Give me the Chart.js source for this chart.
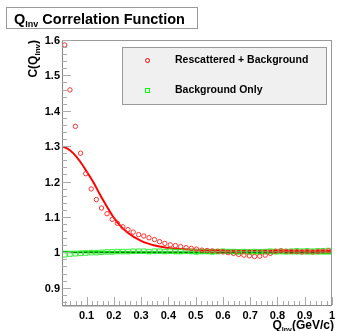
<!DOCTYPE html>
<html>
<head>
<meta charset="utf-8">
<script src="https://cdn.jsdelivr.net/npm/chart.js@4"></script>
<style>
  html, body { margin: 0; padding: 0; background: #fff; }
  #corr { display: block; }
</style>
</head>
<body>
<canvas id="corr" width="337" height="331"></canvas>
<script>
// Q_inv bin centres (GeV/c)
const qBins = [0.020, 0.039, 0.059, 0.078, 0.097, 0.117, 0.136, 0.155, 0.175, 0.194,
  0.213, 0.233, 0.252, 0.271, 0.291, 0.310, 0.329, 0.349, 0.368, 0.387,
  0.407, 0.426, 0.445, 0.465, 0.484, 0.503, 0.523, 0.542, 0.561, 0.581,
  0.600, 0.619, 0.639, 0.658, 0.677, 0.697, 0.716, 0.735, 0.755, 0.774,
  0.793, 0.813, 0.832, 0.851, 0.871, 0.890, 0.909, 0.929, 0.948, 0.967, 0.987];

// C(Q_inv) for rescattered + background
const rescattered = [1.586, 1.459, 1.356, 1.280, 1.222, 1.179, 1.149, 1.125, 1.109, 1.093,
  1.082, 1.072, 1.064, 1.057, 1.050, 1.046, 1.041, 1.036, 1.030, 1.025,
  1.021, 1.019, 1.016, 1.013, 1.011, 1.009, 1.006, 1.005, 1.004, 1.003,
  1.001, 0.999, 0.997, 0.994, 0.992, 0.990, 0.988, 0.989, 0.992, 0.997,
  1.003, 1.004, 1.003, 1.002, 1.002, 1.001, 1.002, 1.001, 1.002, 1.003, 1.004];

// C(Q_inv) for background only
const background = [0.993, 0.995, 0.996, 0.997, 0.998, 0.999, 0.999, 1.000, 1.001, 1.001,
  1.002, 1.002, 1.002, 1.003, 1.003, 1.003, 1.002, 1.003, 1.003, 1.002,
  1.003, 1.002, 1.002, 1.003, 1.002, 1.001, 1.002, 1.002, 1.001, 1.002,
  1.003, 1.002, 1.002, 1.001, 1.002, 1.001, 1.002, 1.001, 1.002, 1.003,
  1.002, 1.003, 1.002, 1.003, 1.004, 1.003, 1.004, 1.003, 1.004, 1.004, 1.005];

// fit curves
const fitQ = [0.01, 0.03, 0.05, 0.075, 0.10, 0.125, 0.15, 0.175, 0.20, 0.225, 0.25,
  0.30, 0.35, 0.40, 0.45, 0.50, 0.60, 0.70, 0.80, 0.90, 1.00];
const rescatteredFit = [1.299, 1.293, 1.281, 1.258, 1.229, 1.198, 1.162, 1.129, 1.098, 1.074, 1.056,
  1.032, 1.019, 1.012, 1.009, 1.007, 1.006, 1.005, 1.005, 1.004, 1.004];
const bgFitQ = [0.01, 1.00];
const backgroundFit = [1.001, 0.997];
const unityLine = [1.0, 1.0];

// axis ticks
const xMajor = [0.1, 0.2, 0.3, 0.4, 0.5, 0.6, 0.7, 0.8, 0.9, 1.0];
const xLabels = ['0.1', '0.2', '0.3', '0.4', '0.5', '0.6', '0.7', '0.8', '0.9', '1'];
const yMajor = [0.9, 1.0, 1.1, 1.2, 1.3, 1.4, 1.5, 1.6];
const yLabels = ['0.9', '1', '1.1', '1.2', '1.3', '1.4', '1.5', '1.6'];

const xMin = 0.01, xMax = 1.0;
const yMin = 0.851, yMax = 1.6;

const pts = (xs, ys) => xs.map((x, i) => ({ x: x, y: ys[i] }));

const FONT = 'Liberation Sans, Arial, Helvetica, sans-serif';

// text with a subscript piece: [main, sub, rest]
function subText(ctx, x, y, parts, size, subSize, align) {
  ctx.font = 'bold ' + size + 'px ' + FONT;
  const w1 = ctx.measureText(parts[0]).width;
  const w3 = ctx.measureText(parts[2]).width;
  ctx.font = 'bold ' + subSize + 'px ' + FONT;
  const w2 = ctx.measureText(parts[1]).width;
  let x0 = align === 'right' ? x - (w1 + w2 + w3) : x;
  ctx.textAlign = 'left';
  ctx.textBaseline = 'alphabetic';
  ctx.font = 'bold ' + size + 'px ' + FONT;
  ctx.fillText(parts[0], x0, y);
  ctx.font = 'bold ' + subSize + 'px ' + FONT;
  ctx.fillText(parts[1], x0 + w1, y + size * 0.25);
  ctx.font = 'bold ' + size + 'px ' + FONT;
  ctx.fillText(parts[2], x0 + w1 + w2, y);
}

const rootFrame = {
  id: 'rootFrame',
  beforeDraw(chart) {
    const ctx = chart.ctx;
    ctx.save();
    ctx.fillStyle = '#fff';
    ctx.fillRect(0, 0, chart.width, chart.height);
    ctx.restore();
  },
  afterDraw(chart) {
    const ctx = chart.ctx;
    const a = chart.chartArea;
    const xs = chart.scales.x, ys = chart.scales.y;
    ctx.save();

    // frame
    ctx.strokeStyle = '#999';
    ctx.lineWidth = 1;
    ctx.strokeRect(a.left + 0.5, a.top + 0.5, a.right - a.left - 1, a.bottom - a.top);
    ctx.strokeStyle = '#888';
    ctx.beginPath();
    ctx.moveTo(a.left + 0.5, a.top);
    ctx.lineTo(a.left + 0.5, a.bottom + 1);
    ctx.lineTo(a.right, a.bottom + 0.5);
    ctx.stroke();

    // y ticks, every 0.02, major every 0.1
    ctx.strokeStyle = '#aaa';
    ctx.beginPath();
    for (let k = 43; k <= 80; k++) {
      const v = k / 50;
      if (v < yMin || v > yMax) continue;
      const py = Math.round(ys.getPixelForValue(v)) + 0.5;
      const len = (k % 5 === 0) ? 9 : 5;
      ctx.moveTo(a.left, py);
      ctx.lineTo(a.left + len, py);
    }
    // x ticks
    for (let k = 1; k <= 50; k++) {
      const v = k / 50;
      if (v < xMin) continue;
      const px = Math.round(xs.getPixelForValue(v)) + 0.5;
      const len = (k % 5 === 0) ? 8 : 4;
      ctx.moveTo(px, a.bottom);
      ctx.lineTo(px, a.bottom - len);
    }
    ctx.stroke();

    // tick labels
    ctx.fillStyle = '#000';
    ctx.font = 'bold 11px ' + FONT;
    ctx.textAlign = 'right';
    ctx.textBaseline = 'middle';
    yMajor.forEach((v, i) => ctx.fillText(yLabels[i], a.left - 2, ys.getPixelForValue(v) + 1));
    ctx.textAlign = 'center';
    ctx.textBaseline = 'alphabetic';
    xMajor.forEach((v, i) => ctx.fillText(xLabels[i], xs.getPixelForValue(v), 319));

    // axis titles
    subText(ctx, 334, 329, ['Q', 'Inv', '(GeV/c)'], 12, 7, 'right');
    ctx.save();
    ctx.translate(37, a.top);
    ctx.rotate(-Math.PI / 2);
    subText(ctx, 0, 0, ['C(Q', 'Inv', ')'], 12, 8, 'right');
    ctx.restore();

    // title box
    ctx.fillStyle = '#fff';
    ctx.fillRect(7, 8, 190, 20);
    ctx.strokeStyle = '#999';
    ctx.strokeRect(6.5, 7.5, 191, 21);
    ctx.fillStyle = '#000';
    subText(ctx, 14, 23.5, ['Q', 'Inv', ' Correlation Function'], 14.5, 9, 'left');

    // legend
    ctx.fillStyle = '#f0f0f0';
    ctx.fillRect(122, 47, 205, 58);
    ctx.strokeStyle = '#999';
    ctx.strokeRect(122.5, 47.5, 204, 57);
    ctx.strokeStyle = '#ff0000';
    ctx.beginPath();
    ctx.arc(147.5, 60.5, 2, 0, Math.PI * 2);
    ctx.stroke();
    ctx.strokeStyle = '#00ff00';
    ctx.strokeRect(145.5, 88.5, 4, 4);
    ctx.fillStyle = '#000';
    ctx.font = 'bold 10.5px ' + FONT;
    ctx.textAlign = 'left';
    ctx.textBaseline = 'middle';
    ctx.fillText('Rescattered + Background', 175, 60.5);
    ctx.fillText('Background Only', 175, 90.5);

    ctx.restore();
  }
};

const ctx = document.getElementById('corr').getContext('2d');
const corrChart = new Chart(ctx, {
  type: 'scatter',
  data: {
    datasets: [
      {
        label: 'Rescattered + Background',
        data: pts(qBins, rescattered),
        pointStyle: 'circle',
        pointRadius: 2.2,
        borderColor: '#ff3333',
        backgroundColor: 'rgba(0,0,0,0)',
        borderWidth: 1,
        order: 1
      },
      {
        label: 'Background Only',
        data: pts(qBins, background),
        pointStyle: 'rect',
        pointRadius: 3.2,
        borderColor: '#33ee33',
        backgroundColor: 'rgba(0,0,0,0)',
        borderWidth: 1,
        order: 2
      },
      {
        label: 'unity',
        data: pts(bgFitQ, unityLine),
        showLine: true,
        pointRadius: 0,
        borderColor: 'rgba(40,40,40,0.8)',
        borderWidth: 1,
        order: 3
      },
      {
        label: 'rescattered fit',
        data: pts(fitQ, rescatteredFit),
        showLine: true,
        pointRadius: 0,
        borderColor: '#ff0000',
        borderWidth: 2,
        cubicInterpolationMode: 'monotone',
        order: 4
      },
      {
        label: 'background fit',
        data: pts(bgFitQ, backgroundFit),
        showLine: true,
        pointRadius: 0,
        borderColor: '#00ee00',
        borderWidth: 2.5,
        order: 5
      }
    ]
  },
  options: {
    responsive: false,
    animation: false,
    devicePixelRatio: 1,
    layout: { padding: { left: 62, top: 40, right: 3, bottom: 26 } },
    scales: {
      x: { type: 'linear', min: xMin, max: xMax, display: false },
      y: { type: 'linear', min: yMin, max: yMax, display: false }
    },
    plugins: {
      legend: { display: false },
      tooltip: { enabled: false }
    }
  },
  plugins: [rootFrame]
});
</script>
</body>
</html>
